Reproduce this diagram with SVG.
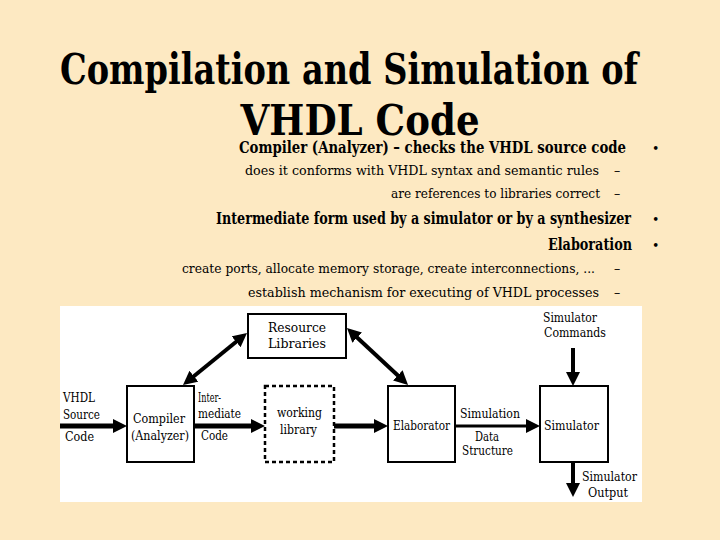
<svg xmlns="http://www.w3.org/2000/svg" width="720" height="540" viewBox="0 0 720 540">
<defs>
<style>
.t{fill:#000;font-family:'DejaVu Serif','Liberation Serif',serif}
.r{text-anchor:end}
.m{text-anchor:middle}
.title{font-size:42px;font-weight:bold}
.b{font-size:16px;font-weight:bold}
.s{font-size:12.5px}
.d{font-size:12px}
.box{fill:#fff;stroke:#000;stroke-width:2}
.dash{fill:#fff;stroke:#000;stroke-width:2.5;stroke-dasharray:4 3}
.a{fill:none;stroke:#000;marker-end:url(#ah)}
.a2{fill:none;stroke:#000;marker-start:url(#ah);marker-end:url(#ah)}
</style>
<marker id="ah" viewBox="0 0 14 14" refX="6" refY="7" markerWidth="14" markerHeight="14" markerUnits="userSpaceOnUse" orient="auto-start-reverse">
<path d="M0,0 L14,7 L0,14 z" fill="#000"/>
</marker>
</defs>
<rect x="0" y="0" width="720" height="540" fill="#FDE9C2"/>

<g id="title">
<text class="t title m" x="349" y="84" textLength="578" lengthAdjust="spacingAndGlyphs">Compilation and Simulation of</text>
<text class="t title m" x="360" y="135" textLength="239" lengthAdjust="spacingAndGlyphs">VHDL Code</text>
</g>

<g id="bullets">
<text class="t b r" x="626" y="153" textLength="387" lengthAdjust="spacingAndGlyphs">Compiler (Analyzer) – checks the VHDL source code</text>
<text class="t s r" x="599" y="175" textLength="354" lengthAdjust="spacingAndGlyphs">does it conforms with VHDL syntax and semantic rules</text>
<text class="t s r" x="600" y="198" textLength="209" lengthAdjust="spacingAndGlyphs">are references to libraries correct</text>
<text class="t b r" x="631" y="224" textLength="415" lengthAdjust="spacingAndGlyphs">Intermediate form used by a simulator or by a synthesizer</text>
<text class="t b r" x="632" y="250" textLength="84" lengthAdjust="spacingAndGlyphs">Elaboration</text>
<text class="t s r" x="595" y="273" textLength="413" lengthAdjust="spacingAndGlyphs">create ports, allocate memory storage, create interconnections, ...</text>
<text class="t s r" x="599" y="297" textLength="351" lengthAdjust="spacingAndGlyphs">establish mechanism for executing of VHDL processes</text>
<text class="t s" x="614" y="175">–</text>
<text class="t s" x="614" y="198">–</text>
<text class="t s" x="614" y="273">–</text>
<text class="t s" x="614" y="297">–</text>
<text class="t s" x="652" y="153">•</text>
<text class="t s" x="652" y="224">•</text>
<text class="t s" x="652" y="250">•</text>
</g>

<rect x="60" y="306" width="582" height="196" fill="#fff"/>

<g id="connectors">
<line class="a" x1="60" y1="426" x2="119" y2="426" stroke-width="5"/>
<line class="a" x1="194" y1="426" x2="257" y2="426" stroke-width="5"/>
<line class="a" x1="334" y1="426" x2="380" y2="426" stroke-width="5"/>
<line class="a" x1="455" y1="426" x2="532" y2="426" stroke-width="3"/>
<line class="a2" x1="189.2" y1="380" x2="240.8" y2="338" stroke-width="4"/>
<line class="a2" x1="352.8" y1="333.5" x2="402.2" y2="379.5" stroke-width="4"/>
<line class="a" x1="573" y1="348" x2="573" y2="378" stroke-width="4"/>
<line class="a" x1="573" y1="462" x2="573" y2="489" stroke-width="4"/>
</g>

<g id="resource">
<rect class="box" x="248" y="314" width="98" height="44"/>
<text class="t d" x="268" y="332" textLength="58" lengthAdjust="spacingAndGlyphs">Resource</text>
<text class="t d" x="268" y="348" textLength="58" lengthAdjust="spacingAndGlyphs">Libraries</text>
</g>

<g id="compiler">
<rect class="box" x="127" y="386" width="67" height="76"/>
<text class="t d" x="133" y="423" textLength="52" lengthAdjust="spacingAndGlyphs">Compiler</text>
<text class="t d" x="131" y="440" textLength="58" lengthAdjust="spacingAndGlyphs">(Analyzer)</text>
</g>

<g id="working">
<rect class="dash" x="265" y="386" width="69" height="76"/>
<text class="t d" x="277" y="417" textLength="45" lengthAdjust="spacingAndGlyphs">working</text>
<text class="t d" x="280" y="434" textLength="37" lengthAdjust="spacingAndGlyphs">library</text>
</g>

<g id="elaborator">
<rect class="box" x="388" y="386" width="67" height="76"/>
<text class="t d" x="393" y="430" textLength="57" lengthAdjust="spacingAndGlyphs">Elaborator</text>
</g>

<g id="simulator">
<rect class="box" x="540" y="386" width="68" height="76"/>
<text class="t d" x="544" y="430" textLength="55" lengthAdjust="spacingAndGlyphs">Simulator</text>
</g>

<g id="labels">
<text class="t d" x="63" y="402" textLength="32" lengthAdjust="spacingAndGlyphs">VHDL</text>
<text class="t d" x="63" y="419" textLength="37" lengthAdjust="spacingAndGlyphs">Source</text>
<text class="t d" x="65" y="441" textLength="29" lengthAdjust="spacingAndGlyphs">Code</text>
<text class="t d" x="198" y="402" textLength="23" lengthAdjust="spacingAndGlyphs">Inter-</text>
<text class="t d" x="198" y="418" textLength="43" lengthAdjust="spacingAndGlyphs">mediate</text>
<text class="t d" x="201" y="440" textLength="27" lengthAdjust="spacingAndGlyphs">Code</text>
<text class="t d" x="460" y="418" textLength="60" lengthAdjust="spacingAndGlyphs">Simulation</text>
<text class="t d" x="475" y="441" textLength="24" lengthAdjust="spacingAndGlyphs">Data</text>
<text class="t d" x="462" y="455" textLength="51" lengthAdjust="spacingAndGlyphs">Structure</text>
<text class="t d" x="543" y="322" textLength="54" lengthAdjust="spacingAndGlyphs">Simulator</text>
<text class="t d" x="544" y="337" textLength="62" lengthAdjust="spacingAndGlyphs">Commands</text>
<text class="t d" x="582" y="481" textLength="55" lengthAdjust="spacingAndGlyphs">Simulator</text>
<text class="t d" x="588" y="497" textLength="40" lengthAdjust="spacingAndGlyphs">Output</text>
</g>
</svg>
